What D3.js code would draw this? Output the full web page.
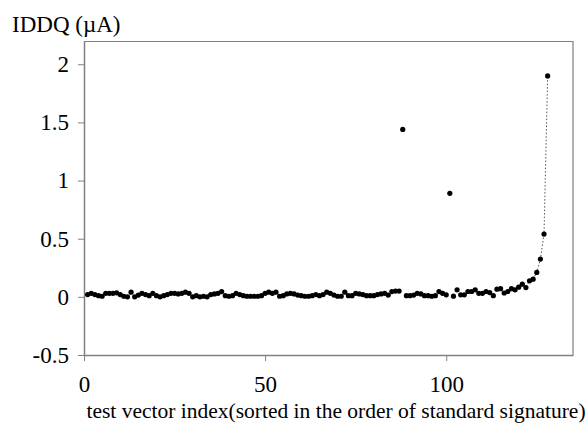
<!DOCTYPE html>
<html>
<head>
<meta charset="utf-8">
<script src="https://cdn.jsdelivr.net/npm/d3@7/dist/d3.min.js"></script>
<style>
  body { margin: 0; background: #fff; }
  svg text { font-family: "Liberation Serif", "Times New Roman", serif; fill: #000; }
</style>
</head>
<body>
<div id="wrapper"></div>
<script>
// IDDQ readings per test vector (index 1..128)
const iddq = [
  0.02, 0.03, 0.02, 0.01, 0.005, 0.03, 0.03, 0.03, 0.035, 0.02,
  0.005, 0.0, 0.04, 0.0, 0.015, 0.03, 0.02, 0.01, 0.03, 0.01,
  0.0, 0.01, 0.02, 0.03, 0.03, 0.025, 0.03, 0.04, 0.03, 0.0,
  0.01, 0.0, 0.005, 0.0, 0.02, 0.025, 0.03, 0.045, 0.01, 0.005,
  0.01, 0.03, 0.02, 0.01, 0.005, 0.005, 0.005, 0.005, 0.01, 0.03,
  0.04, 0.03, 0.04, 0.005, 0.01, 0.025, 0.03, 0.025, 0.015, 0.01,
  0.005, 0.005, 0.01, 0.02, 0.01, 0.02, 0.04, 0.03, 0.015, 0.005,
  0.005, 0.04, 0.01, 0.01, 0.03, 0.025, 0.02, 0.01, 0.01, 0.01,
  0.02, 0.025, 0.03, 0.015, 0.045, 0.05, 0.05, 1.44, 0.01, 0.01,
  0.015, 0.03, 0.025, 0.01, 0.01, 0.005, 0.01, 0.045, 0.03, 0.017,
  0.89, 0.006, 0.06, 0.017, 0.017, 0.046, 0.046, 0.06, 0.03, 0.03,
  0.046, 0.037, 0.01, 0.066, 0.07, 0.033, 0.046, 0.07, 0.06, 0.083,
  0.109, 0.08, 0.138, 0.152, 0.21, 0.325, 0.54, 1.9
];
const xTicks = [0, 50, 100];
const yTicks = [-0.5, 0, 0.5, 1, 1.5, 2];
const yLabel = "IDDQ (\u00b5A)";
const xLabel = "test vector index(sorted in the order of standard signature)";

const dataset = iddq.map((v, i) => ({ idx: i + 1, val: v }));
const xAccessor = d => d.idx;
const yAccessor = d => d.val;
const serif = '"Liberation Serif", "Times New Roman", serif';

// dimensions
let dimensions = {
  width: 586,
  height: 423,
  margin: { top: 41, right: 13, bottom: 68, left: 84 }
};
dimensions.boundW = dimensions.width - dimensions.margin.left - dimensions.margin.right;
dimensions.boundH = dimensions.height - dimensions.margin.top - dimensions.margin.bottom;

const svg = d3.select("#wrapper").append("svg")
  .attr("width", dimensions.width)
  .attr("height", dimensions.height);

const bounds = svg.append("g")
  .attr("transform", `translate(${dimensions.margin.left},${dimensions.margin.top})`);

// scales
const xScale = d3.scaleLinear()
  .domain([0, 135])
  .range([0, dimensions.boundW]);

const yScale = d3.scaleLinear()
  .domain([-0.5, 2.2])
  .range([dimensions.boundH, 0]);

// frame (top + right)
bounds.append("path")
  .attr("d", `M0,0.5H${dimensions.boundW}V${dimensions.boundH}`)
  .attr("fill", "none")
  .attr("stroke", "#808080")
  .attr("stroke-width", 1.2);

// axes
const yAxis = bounds.append("g")
  .call(d3.axisLeft(yScale).tickValues(yTicks).tickSize(6).tickSizeOuter(0).tickPadding(9)
    .tickFormat(d => String(d)));   // plain hyphen minus like the original

const xAxis = bounds.append("g")
  .attr("transform", `translate(0,${dimensions.boundH})`)
  .call(d3.axisBottom(xScale).tickValues(xTicks).tickSize(6).tickSizeOuter(0).tickPadding(15));

[xAxis, yAxis].forEach(ax => {
  ax.attr("font-family", serif).attr("font-size", 23);
  ax.select(".domain").attr("stroke", "#808080").attr("stroke-width", 1.5);
  ax.selectAll(".tick line").attr("stroke", "#808080").attr("stroke-width", 1);
  ax.selectAll(".tick text")
    .style("font-family", serif)
    .style("font-size", "23px")
    .attr("fill", "#000");
});

// dotted connector through the rising tail
const tail = dataset.filter(d => d.idx >= 120);
const lineGen = d3.line()
  .x(d => xScale(xAccessor(d)))
  .y(d => yScale(yAccessor(d)));

bounds.append("path")
  .attr("d", lineGen(tail))
  .attr("fill", "none")
  .attr("stroke", "#555")
  .attr("stroke-width", 1)
  .attr("stroke-dasharray", "1.5,2");

// points
bounds.append("g")
  .selectAll("circle")
  .data(dataset)
  .join("circle")
  .attr("cx", d => xScale(xAccessor(d)))
  .attr("cy", d => yScale(yAccessor(d)))
  .attr("r", 2.6)
  .attr("fill", "#000");

// labels
svg.append("text")
  .attr("x", 12)
  .attr("y", 32)
  .style("font-size", "23px")
  .text(yLabel);

svg.append("text")
  .attr("x", 336)
  .attr("y", 418)
  .attr("text-anchor", "middle")
  .style("font-size", "21.5px")
  .text(xLabel);
</script>
</body>
</html>
